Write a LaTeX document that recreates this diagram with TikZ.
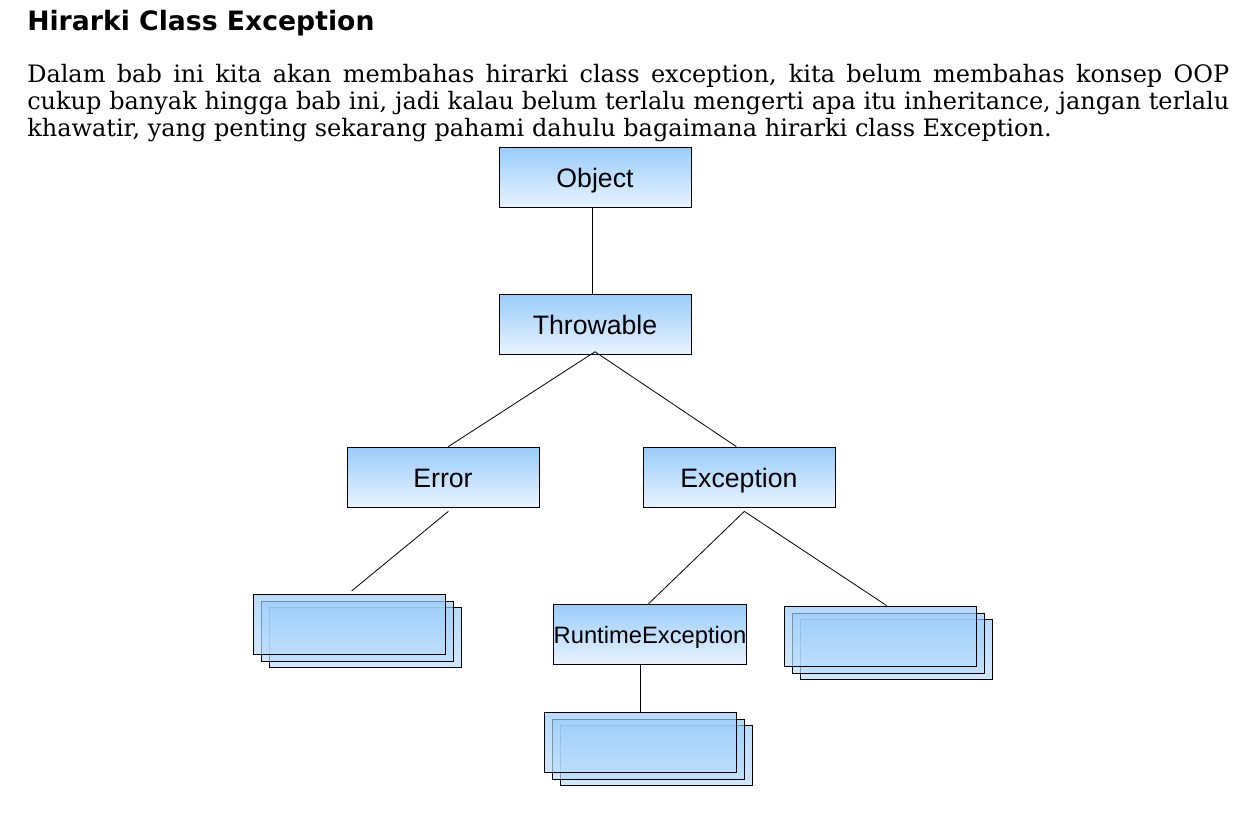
\documentclass[tikz,border=0pt]{standalone}
\usepackage{fontspec}
\setmainfont{DejaVu Serif}
\newfontfamily\headfont{DejaVu Sans}
\newfontfamily\boxfont{Liberation Sans}
\usetikzlibrary{positioning}
\definecolor{boxtop}{HTML}{99CCFA}
\definecolor{boxbot}{HTML}{E8F3FF}

\begin{document}
\begin{tikzpicture}[
    x=0.75pt, y=-0.75pt,
    cls/.style={rectangle, draw=black, line width=0.6pt, top color=boxtop,
                bottom color=boxbot, minimum width=144pt, minimum height=45pt,
                inner sep=0pt, text height=15.5pt, text depth=0pt,
                font=\boxfont\fontsize{20}{22}\selectfont},
    layer/.style={cls, bottom color=boxtop!55!boxbot, fill opacity=0.7},
    link/.style={draw=black, line width=0.6pt}
  ]

  % ---- Page frame ----
  \useasboundingbox[fill=white] (0,0) rectangle (1260,828);

  % ---- Heading and paragraph ----
  \node[anchor=base west, inner sep=0pt, font=\headfont\bfseries\fontsize{20}{22}\selectfont]
    (title) at (27,30) {Hirarki Class Exception};
  \node[anchor=base west, inner sep=0pt, text width=901.5pt, align=justify,
        font=\fontsize{18}{20.6}\selectfont]
    (intro) at (27,82)
    {Dalam bab ini kita akan membahas hirarki class exception, kita belum membahas konsep OOP\linebreak
     cukup banyak hingga bab ini, jadi kalau belum terlalu mengerti apa itu inheritance, jangan terlalu\linebreak
     khawatir, yang penting sekarang pahami dahulu bagaimana hirarki class Exception.};

  % ============ CLASS BOXES ============
  \node[cls] (obj) at (595,177) {Object};
  \node[cls] (thr) at (595,324) {Throwable};
  \node[cls] (err) at (443,477) {Error};
  \node[cls] (exc) at (739,477) {Exception};
  \node[cls, font=\boxfont\fontsize{17.8}{20}\selectfont, text height=14.5pt] (rte) at (650,634) {RuntimeException};

  % ---- Stacked subclasses (back to front) ----
  \node[layer] (stkLc) at (365,637) {};
  \node[layer] (stkLb) at (357,631) {};
  \node[layer] (stkLa) at (349,624) {};

  \node[layer] (stkRc) at (896,649) {};
  \node[layer] (stkRb) at (888,643) {};
  \node[layer] (stkRa) at (880,636) {};

  \node[layer] (stkBc) at (656,755) {};
  \node[layer] (stkBb) at (648,749) {};
  \node[layer] (stkBa) at (640,742) {};

  % ---- Connectors ----
  \draw[link] ([xshift=-2pt]obj.south) -- ([xshift=-2pt]thr.north);
  \draw[link] ([yshift=2pt]thr.south) -- ([xshift=4pt]err.north);
  \draw[link] ([yshift=2pt]thr.south) -- ([xshift=-2pt]exc.north);
  \draw[link] ([xshift=4pt,yshift=-3pt]err.south) -- ([xshift=2pt,yshift=2pt]stkLa.north);
  \draw[link] ([xshift=4pt,yshift=-3pt]exc.south) -- ([xshift=-2pt,yshift=-1pt]rte.north);
  \draw[link] ([xshift=4pt,yshift=-3pt]exc.south) -- ([xshift=5pt]stkRa.north);
  \draw[link] (rte.south -| stkBa.north) -- (stkBa.north);

\end{tikzpicture}
\end{document}
